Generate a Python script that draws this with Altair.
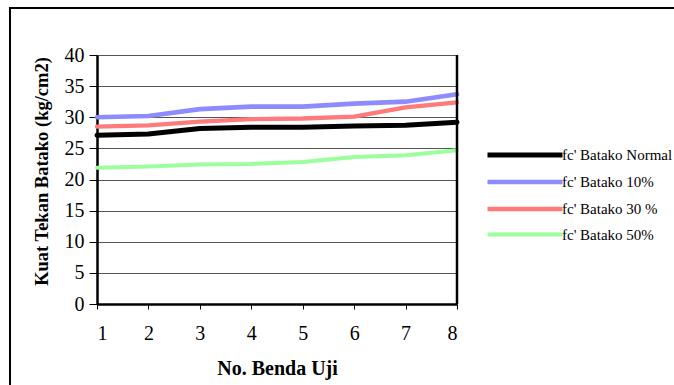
import altair as alt
import pandas as pd

samples = [1, 2, 3, 4, 5, 6, 7, 8]
series_names = ["fc' Batako Normal", "fc' Batako 10%", "fc' Batako 30 %", "fc' Batako 50%"]
normal = [27.1, 27.3, 28.2, 28.4, 28.4, 28.6, 28.7, 29.2]
b10 = [30.0, 30.2, 31.3, 31.7, 31.7, 32.2, 32.5, 33.7]
b30 = [28.5, 28.7, 29.3, 29.7, 29.8, 30.1, 31.6, 32.4]
b50 = [21.9, 22.1, 22.4, 22.5, 22.8, 23.6, 23.9, 24.7]
colors = ["#000000", "#8C8CFF", "#FF7A7A", "#9CFF9C"]
widths = [5, 4, 5, 3]

rows = []
for name, vals in zip(series_names, [normal, b10, b30, b50]):
    for s, v in zip(samples, vals):
        rows.append({"No": s, "Kuat": v, "Seri": name})
df = pd.DataFrame(rows)

FONT = "Liberation Serif"

x_scale = alt.Scale(domain=[1, 8], nice=False, zero=False)
y_scale = alt.Scale(domain=[0, 40], nice=False)

lines = alt.Chart(df).mark_line(strokeCap="round").encode(
    x=alt.X("No:Q", scale=x_scale, title="No. Benda Uji",
            axis=alt.Axis(values=samples, format="d", tickSize=5, tickColor="black",
                          domainColor="black", domainWidth=2.5, labelFontSize=20,
                          labelPadding=14, labelFont=FONT, labelColor="black",
                          titleFont=FONT, titleFontSize=20, titleFontWeight="bold",
                          titleColor="black", titlePadding=15, grid=False)),
    y=alt.Y("Kuat:Q", scale=y_scale, title="Kuat Tekan Batako (kg/cm2)",
            axis=alt.Axis(values=[0, 5, 10, 15, 20, 25, 30, 35, 40], tickSize=8,
                          tickColor="black", domainColor="black", domainWidth=2.5,
                          labelFontSize=20, labelPadding=5, labelFont=FONT,
                          labelColor="black", titleFont=FONT, titleFontSize=18.5,
                          titleFontWeight="bold", titleColor="black",
                          titleX=-56, titleY=116, titleBaseline="middle",
                          grid=True, gridColor="#555555", gridWidth=1)),
    color=alt.Color("Seri:N", scale=alt.Scale(domain=series_names, range=colors),
                    legend=alt.Legend(title=None, orient="none", legendX=418, legendY=90,
                                      symbolType="M-5,0H5", symbolSize=225,
                                      labelFont=FONT, labelFontSize=15, labelColor="black",
                                      labelOffset=27, rowPadding=7, padding=0)),
    strokeWidth=alt.StrokeWidth("Seri:N", scale=alt.Scale(domain=series_names, range=widths),
                                legend=None),
    order=alt.Order("No:Q"),
)

right_border = alt.Chart(pd.DataFrame({"v": [8]})).mark_rule(color="black", strokeWidth=2.5).encode(
    x=alt.X("v:Q", scale=x_scale)
)

frame = alt.Chart(pd.DataFrame({"v": [0]})).mark_rect(
    fill="transparent", stroke="black", strokeWidth=2
).encode(
    x=alt.value(-87), x2=alt.value(700), y=alt.value(-47), y2=alt.value(500)
)

chart = alt.layer(frame, lines, right_border).properties(
    width=360, height=249,
    autosize=alt.AutoSizeParams(type="none"),
    padding={"left": 97, "top": 55, "right": 217, "bottom": 81},
).configure_view(stroke=None).configure(background="white")

chart.save("out.html", embed_options={"renderer": "svg", "actions": False})
